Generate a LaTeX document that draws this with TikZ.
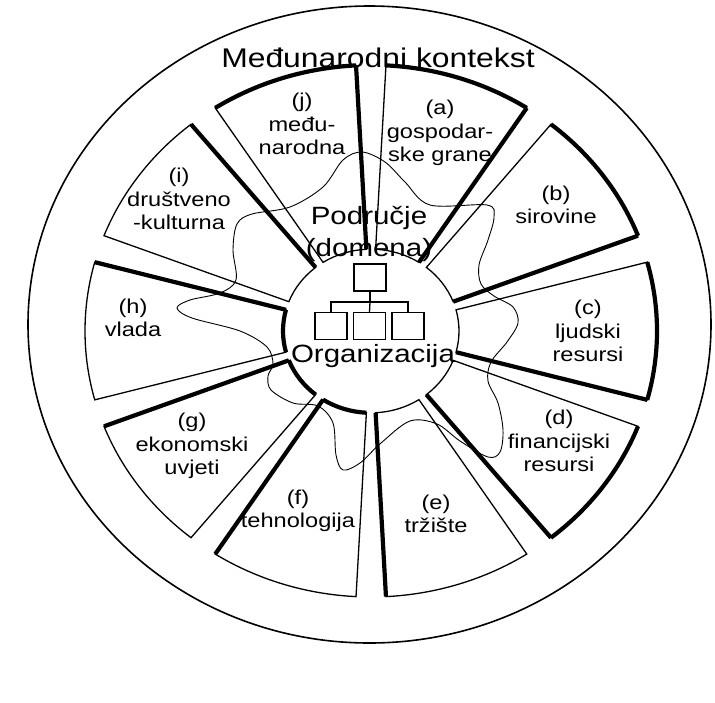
\documentclass[tikz,border=0pt]{standalone}
\usepackage{fontspec}
\setmainfont{Liberation Sans}[FakeStretch=1.18]
\begin{document}
\begin{tikzpicture}[x=1pt,y=-1pt,
    sector/.style={line width=1.3pt, line join=miter},
    thickedge/.style={line width=4.2pt},
    lbl/.style={align=center, font=\fontsize{20}{23.5}\selectfont},
    orgbox/.style={draw, line width=1.3pt, minimum width=32pt, minimum height=27pt, inner sep=0pt},
    blob/.style={line width=0.9pt}]
    \useasboundingbox (0,0) rectangle (715,702);
    % vanjski krug (skenirano, pa malo spljošteno)
    \draw[line width=1.6pt] (369.5,324.5) ellipse [x radius=341.5, y radius=318.5];
    \node[font=\fontsize{27}{30}\selectfont] (kontekst) at (378,58) {Međunarodni kontekst};
    % deset isječaka oko organizacije, kut 0 = desno
    \begin{scope}[shift={(371,331)}, yscale=-0.93]
        \foreach \c in {72,36,0,-36,-72,-108,-144,-180,-216,-252}{
            \draw[sector] ({\c-15}:88) -- ({\c-15}:286)
                arc[start angle={\c-15}, end angle={\c+15}, radius=286]
                -- ({\c+15}:88)
                arc[start angle={\c+15}, end angle={\c-15}, radius=88] -- cycle;
            \draw[thickedge] ({\c-15}:88) -- ({\c-15}:286);
        }
        % deblji vanjski lukovi (sjena)
        \foreach \c in {108,72,36,0,-36}
            \draw[thickedge] ({\c-15}:286) arc[start angle={\c-15}, end angle={\c+15}, radius=286];
        \foreach \c in {180,216,252}
            \draw[thickedge] ({\c-15}:88) arc[start angle={\c-15}, end angle={\c+15}, radius=88];
    \end{scope}
    % područje (domena) - slobodna krivulja
    \draw[blob] plot[smooth cycle, tension=0.55] coordinates {
        (236,280) (233,250) (237,224) (252,214) (290,207) (323,187) (343,160)
        (362,152) (385,162) (405,182) (430,205) (487,205) (494,217) (488,240)
        (479,265) (481,284) (494,296) (513,307) (518,323) (507,342) (491,362)
        (488,381) (498,403) (503,430) (500,452) (488,457) (460,441) (437,424)
        (410,421) (381,443) (360,463) (343,470) (336,455) (333,423) (318,406)
        (293,403) (271,390) (268,376) (273,364) (267,347) (240,331) (192,318)
        (177,308) (190,300) (220,293)};
    \node[font=\fontsize{25}{32}\selectfont, align=center] (domena) at (369,234) {Područje\\(domena)};
    \node[font=\fontsize{25}{30}\selectfont] (org) at (373,356) {Organizacija};
    % mali organigram
    \node[orgbox] (vrh) at (370,277.5) {};
    \node[orgbox] (o1) at (331,326) {};
    \node[orgbox] (o2) at (369.5,326) {};
    \node[orgbox] (o3) at (408,326) {};
    \coordinate (bus) at (370,302);
    \draw[line width=1.3pt] (vrh.south) -- (bus);
    \draw[line width=1.3pt] (o1.north) |- (bus) -| (o3.north);
    \draw[line width=1.3pt] (bus) -- (o2.north);
    % oznake isječaka
    \node[lbl] (a) at (440,133) {(a)\\gospodar-\\ske grane};
    \node[lbl] (b) at (556,205) {(b)\\sirovine};
    \node[lbl] (c) at (588,331) {(c)\\ljudski\\resursi};
    \node[lbl] (d) at (559,441) {(d)\\financijski\\resursi};
    \node[lbl] (e) at (436,514) {(e)\\tržište};
    \node[lbl] (f) at (298,511) {(f)\\tehnologija};
    \node[lbl] (g) at (192,446) {(g)\\ekonomski\\uvjeti};
    \node[lbl] (h) at (133,318) {(h)\\vlada};
    \node[lbl] (i) at (179,199) {(i)\\društveno\\-kulturna};
    \node[lbl] (j) at (302,124) {(j)\\među-\\narodna};
\end{tikzpicture}
\end{document}
